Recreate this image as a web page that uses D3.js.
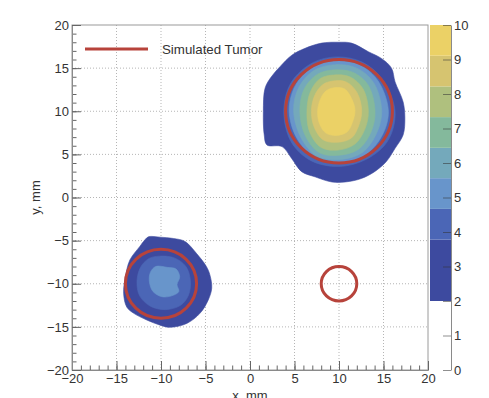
<!DOCTYPE html>
<html>
<head>
<meta charset="utf-8">
<script src="https://cdn.jsdelivr.net/npm/d3@7"></script>
<style>
	body { margin: 0; background: #fff; }
	text { font-family: "Liberation Sans", Arial, Helvetica, sans-serif; fill: #333; }
</style>
</head>
<body>
<div id="chart"></div>
<script>
// contour levels (z) and the fill colour of the band above each level
const levels = [2, 3.78, 4.67, 5.56, 6.44, 7.33, 8.22, 9.11, 10];
const bandColors = ["#3d4a9f", "#4b66b6", "#6895cb", "#74a9bb", "#84b99c", "#afc07e", "#d6c470", "#ebd166"];

const xTicks = [-20, -15, -10, -5, 0, 5, 10, 15, 20];
const yTicks = [-20, -15, -10, -5, 0, 5, 10, 15, 20];
const zTicks = [0, 1, 2, 3, 4, 5, 6, 7, 8, 9, 10];

// simulated tumours: centre and radius in mm
const tumorX = [10, -10, 10];
const tumorY = [10, -10, -10];
const tumorR = [6, 4, 2];

// reconstructed contours, big spot near (10, 10), one outline per level
const bigSpot = [
	{level: 2, pts: [[9.9,18.0],[11.4,17.9],[13.3,16.9],[14.8,16.1],[15.9,15.0],[16.3,13.4],[17.2,11.1],[17.4,9.2],[17.2,7.25],[16.3,5.7],[15.3,4.15],[14.0,3.0],[12.5,2.2],[10.7,1.8],[9.2,1.8],[7.3,2.4],[5.8,3.0],[4.7,4.5],[3.6,5.9],[1.9,6.1],[1.6,7.25],[1.5,9.95],[1.7,12.7],[2.4,14.0],[3.4,15.2],[4.7,16.5],[6.2,17.3],[8.05,17.9]]},
	{level: 3.78, pts: [[9.8,16.3],[12.6,15.7],[14.8,13.8],[16.3,10.0],[15.5,6.6],[13.2,4.5],[10.0,3.6],[6.8,4.3],[4.6,6.5],[3.8,10.0],[4.6,13.3],[7.0,15.6]]},
	{level: 4.67, pts: [[9.7,15.85],[12.3,15.4],[14.4,13.5],[15.55,10.0],[14.8,7.1],[12.9,4.9],[10.0,4.0],[7.1,4.8],[5.2,7.0],[4.4,10.1],[5.1,13.0],[7.1,15.2]]},
	{level: 5.56, pts: [[9.6,15.4],[12.0,15.0],[13.9,13.3],[14.8,10.0],[14.2,7.4],[12.6,5.2],[10.0,4.4],[7.5,4.8],[5.7,7.0],[4.9,10.1],[5.5,12.8],[7.3,14.8]]},
	{level: 6.44, pts: [[9.5,14.8],[11.6,14.5],[13.3,13.0],[14.05,10.0],[13.6,7.6],[12.2,5.6],[10.0,4.9],[7.8,5.2],[6.2,7.2],[5.6,10.1],[6.1,12.6],[7.6,14.3]]},
	{level: 7.33, pts: [[9.4,14.2],[11.2,14.0],[12.7,12.6],[13.3,10.0],[12.9,7.9],[11.8,6.2],[9.9,5.5],[8.0,5.8],[6.7,7.6],[6.4,10.1],[6.8,12.3],[7.9,13.8]]},
	{level: 8.22, pts: [[9.3,13.5],[10.8,13.4],[12.0,12.2],[12.55,10.1],[12.2,8.3],[11.4,6.9],[9.8,6.4],[8.2,6.7],[7.2,8.2],[6.9,10.1],[7.3,11.9],[8.2,13.1]]},
	{level: 9.11, pts: [[9.3,12.7],[10.6,12.6],[11.4,11.5],[11.8,10.1],[11.5,8.7],[10.9,7.6],[9.7,7.2],[8.5,7.5],[7.8,8.6],[7.6,10.1],[8.0,11.6],[8.6,12.4]]}
];

// small spot near (-10, -10)
const smallSpot = [
	{level: 2, pts: [[-11.4,-4.55],[-10.1,-4.6],[-8.6,-4.75],[-7.3,-5.1],[-6.0,-6.5],[-4.9,-8.0],[-4.5,-9.0],[-4.3,-10.5],[-4.7,-11.9],[-5.6,-13.4],[-7.1,-14.6],[-9.0,-15.05],[-10.1,-14.8],[-11.6,-14.2],[-13.1,-13.4],[-13.85,-12.7],[-14.2,-11.1],[-14.0,-9.2],[-13.5,-7.25],[-12.4,-5.7],[-11.8,-4.9]]},
	{level: 3.78, pts: [[-10.2,-6.8],[-8.5,-7.0],[-7.2,-8.0],[-6.7,-9.6],[-6.9,-11.3],[-7.8,-12.5],[-9.5,-13.0],[-11.2,-12.6],[-12.4,-11.4],[-12.7,-9.7],[-12.3,-8.1],[-11.4,-7.1]]},
	{level: 4.67, pts: [[-10.6,-8.0],[-9.3,-8.1],[-8.3,-8.3],[-7.9,-9.2],[-8.2,-10.1],[-8.0,-10.9],[-8.8,-11.4],[-9.9,-11.5],[-10.9,-10.9],[-11.3,-9.8],[-11.2,-8.7]]}
];

const legendLabel = "Simulated Tumor";
const tumorColor = "#b7433b";

const W = 489, H = 398;
const plot = {left: 72, right: 428, top: 25, bottom: 370};
const bar = {left: 430, right: 451};

const svg = d3.select("#chart").append("svg")
	.attr("width", W)
	.attr("height", H);

const x = d3.scaleLinear().domain([-20, 20]).range([plot.left, plot.right]);
const y = d3.scaleLinear().domain([-20, 20]).range([plot.bottom, plot.top]);
const z = d3.scaleLinear().domain([0, 10]).range([plot.bottom, plot.top]);

// grid
const grid = svg.append("g")
	.attr("stroke", "#b5b5b5")
	.attr("stroke-dasharray", "1,2");
grid.selectAll(".gx").data(xTicks.slice(1, -1)).join("line")
	.attr("x1", d => x(d)).attr("x2", d => x(d))
	.attr("y1", plot.top).attr("y2", plot.bottom);
grid.selectAll(".gy").data(yTicks.slice(1, -1)).join("line")
	.attr("y1", d => y(d)).attr("y2", d => y(d))
	.attr("x1", plot.left).attr("x2", plot.right);

// filled contours
const outline = d3.line()
	.x(p => x(p[0]))
	.y(p => y(p[1]))
	.curve(d3.curveCatmullRomClosed.alpha(0.5));
const colorOf = lv => bandColors[levels.indexOf(lv)];

const spots = svg.append("g");
for (const spot of [bigSpot, smallSpot]) {
	spots.append("g").selectAll("path")
		.data(spot)
		.join("path")
		.attr("d", d => outline(d.pts))
		.attr("fill", d => colorOf(d.level))
		.attr("stroke", d => colorOf(d.level))
		.attr("stroke-width", 0.6);
}

// tumour outlines
svg.append("g").selectAll("ellipse")
	.data(tumorX.map((cx, i) => ({cx, cy: tumorY[i], r: tumorR[i]})))
	.join("ellipse")
	.attr("cx", d => x(d.cx))
	.attr("cy", d => y(d.cy))
	.attr("rx", d => x(d.cx + d.r) - x(d.cx))
	.attr("ry", d => y(d.cy) - y(d.cy + d.r))
	.attr("fill", "none")
	.attr("stroke", tumorColor)
	.attr("stroke-width", 3);

// frame
svg.append("rect")
	.attr("x", plot.left).attr("y", plot.top)
	.attr("width", plot.right - plot.left).attr("height", plot.bottom - plot.top)
	.attr("fill", "none").attr("stroke", "#9a9a9a");

const fmt = d => d < 0 ? "\u2212" + Math.abs(d) : String(d);
const minor = d3.range(-20, 21, 1);

function styleAxis(g) {
	g.select(".domain").attr("stroke", "#8a8a8a");
	g.selectAll(".tick line").attr("stroke", "#666");
	g.selectAll("text").attr("font-size", 13).attr("fill", "#333");
}

// x axis, ticks pointing into the plot
svg.append("g")
	.attr("transform", `translate(0,${plot.bottom})`)
	.call(d3.axisBottom(x).tickValues(minor).tickSizeInner(-4.5).tickSizeOuter(0).tickFormat(""))
	.call(styleAxis);
svg.append("g")
	.attr("transform", `translate(0,${plot.bottom})`)
	.call(d3.axisBottom(x).tickValues(xTicks).tickSizeInner(-9).tickSizeOuter(0).tickPadding(4).tickFormat(fmt))
	.call(styleAxis);

// y axis
svg.append("g")
	.attr("transform", `translate(${plot.left},0)`)
	.call(d3.axisLeft(y).tickValues(minor).tickSizeInner(-4.5).tickSizeOuter(0).tickFormat(""))
	.call(styleAxis);
svg.append("g")
	.attr("transform", `translate(${plot.left},0)`)
	.call(d3.axisLeft(y).tickValues(yTicks).tickSizeInner(-9).tickSizeOuter(0).tickPadding(3).tickFormat(fmt))
	.call(styleAxis);

// axis titles
svg.append("text")
	.attr("x", x(0)).attr("y", 400)
	.attr("text-anchor", "middle")
	.attr("font-size", 13)
	.text("x, mm");
svg.append("text")
	.attr("transform", `translate(40,${(plot.top + plot.bottom) / 2}) rotate(-90)`)
	.attr("text-anchor", "middle")
	.attr("font-size", 13)
	.text("y, mm");

// colour bar
svg.append("g").selectAll("rect")
	.data(bandColors)
	.join("rect")
	.attr("x", bar.left)
	.attr("width", bar.right - bar.left)
	.attr("y", (c, i) => z(levels[i + 1]))
	.attr("height", (c, i) => z(levels[i]) - z(levels[i + 1]))
	.attr("fill", c => c);

svg.append("g")
	.attr("transform", `translate(${bar.right},0)`)
	.call(d3.axisRight(z).tickValues(zTicks).tickSizeInner(-8).tickSizeOuter(0).tickPadding(3))
	.call(styleAxis)
	.call(g => g.selectAll(".tick line").attr("stroke", "#333").attr("stroke-opacity", 0.55));

// legend
svg.append("line")
	.attr("x1", 85).attr("x2", 148)
	.attr("y1", 49).attr("y2", 49)
	.attr("stroke", tumorColor)
	.attr("stroke-width", 3);
svg.append("text")
	.attr("x", 162).attr("y", 53.5)
	.attr("font-size", 13.3)
	.text(legendLabel);
</script>
</body>
</html>
